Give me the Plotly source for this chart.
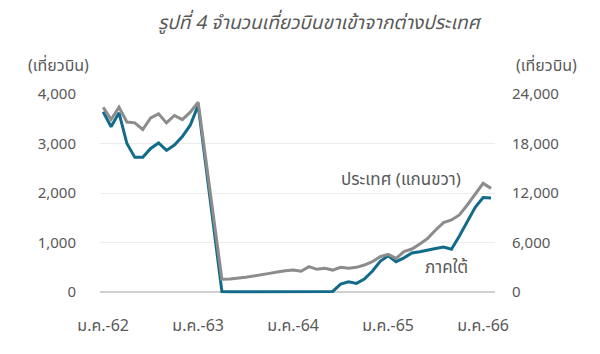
import plotly.graph_objects as go

thai_months = ["ม.ค.", "ก.พ.", "มี.ค.", "เม.ย.", "พ.ค.", "มิ.ย.",
               "ก.ค.", "ส.ค.", "ก.ย.", "ต.ค.", "พ.ย.", "ธ.ค."]
years = ["62", "63", "64", "65", "66"]
months = [f"{m}-{y}" for y in years for m in thai_months][:50]  # ม.ค.-62 .. ก.พ.-66

# ภาคใต้ (left axis, flights)
south = [3640, 3340, 3620, 3000, 2720, 2720, 2900, 3010, 2860, 2970, 3140, 3370,
         3770, 2520, 1260, 10, 5, 5, 10, 10, 15, 10, 5, 10,
         15, 10, 10, 5, 10, 13, 160, 205, 175, 260, 420, 620, 730, 613, 690, 790,
         815, 840, 880, 910, 865, 1130, 1420, 1710, 1910, 1900]

# ประเทศ (right axis, flights)
country = [22400, 20900, 22400, 20600, 20500, 19700, 21100, 21600, 20500, 21400, 20900, 21800,
           23000, 15900, 8700, 1540, 1580, 1660, 1780, 1940, 2060, 2260, 2420, 2590,
           2660, 2510, 3070, 2750, 2870, 2660, 2990, 2870, 2990, 3270, 3680, 4280, 4570, 4080, 4890, 5210,
           5820, 6500, 7520, 8410, 8730, 9340, 10550, 11880, 13170, 12560]

left_ticks = [0, 1000, 2000, 3000, 4000]
right_ticks = [0, 6000, 12000, 18000, 24000]
x_ticks = [f"ม.ค.-{y}" for y in years]

title_text = "รูปที่ 4 จำนวนเที่ยวบินขาเข้าจากต่างประเทศ"
unit_text = "(เที่ยวบิน)"
label_country = "ประเทศ (แกนขวา)"
label_south = "ภาคใต้"

FONT = "Noto Sans Thai, Tahoma, Loma, Garuda, Noto Sans, sans-serif"
TXT = "#595959"

W, H = 600, 354
pl, pr, pt, pb = 100, 105, 94, 60
pw, ph = W - pl - pr, H - pt - pb


def px(x):
    return (x - pl) / pw


def py(y):
    return (H - pb - y) / ph


fig = go.Figure()
fig.add_trace(go.Scatter(x=months, y=country, yaxis="y2", mode="lines",
                         line=dict(color="#8c8c8c", width=3), name=label_country))
fig.add_trace(go.Scatter(x=months, y=south, mode="lines",
                         line=dict(color="#126b8a", width=3), name=label_south))

fig.update_layout(
    width=W, height=H,
    margin=dict(l=pl, r=pr, t=pt, b=pb),
    plot_bgcolor="white", paper_bgcolor="white",
    showlegend=False,
    font=dict(family=FONT, color=TXT, size=15),
    xaxis=dict(type="category", range=[-0.4, 49.5], tickmode="array",
               tickvals=x_ticks, ticktext=x_ticks, showgrid=False,
               zeroline=False, showline=False, ticks="", ticklabelstandoff=20,
               tickfont=dict(size=16, color=TXT)),
    yaxis=dict(range=[-40, 4000], tickvals=left_ticks, tickformat=",",
               showgrid=True, gridcolor="#ececec", gridwidth=1,
               zeroline=True, zerolinecolor="#d0d0d0", zerolinewidth=1.5,
               ticks="", ticklabelstandoff=23, tickfont=dict(size=15, color=TXT)),
    yaxis2=dict(range=[-240, 24000], tickvals=right_ticks, tickformat=",",
                overlaying="y", side="right", showgrid=False, zeroline=False,
                ticks="", ticklabelstandoff=16, tickfont=dict(size=15, color=TXT)),
    annotations=[
        dict(text=title_text, x=px(320), y=py(24), xref="paper", yref="paper",
             showarrow=False, xanchor="center", yanchor="middle",
             font=dict(size=19, color=TXT, style="italic")),
        dict(text=unit_text, x=px(58), y=py(66), xref="paper", yref="paper", showarrow=False,
             xanchor="center", yanchor="middle", font=dict(size=16, color=TXT)),
        dict(text=unit_text, x=px(546), y=py(66), xref="paper", yref="paper", showarrow=False,
             xanchor="center", yanchor="middle", font=dict(size=16, color=TXT)),
        dict(text=label_country, x=px(401), y=py(180), xref="paper", yref="paper", showarrow=False,
             xanchor="center", yanchor="middle", font=dict(size=17, color=TXT)),
        dict(text=label_south, x=px(446), y=py(268), xref="paper", yref="paper", showarrow=False,
             xanchor="center", yanchor="middle", font=dict(size=17, color=TXT)),
    ],
)

fig.write_html("out.html")
